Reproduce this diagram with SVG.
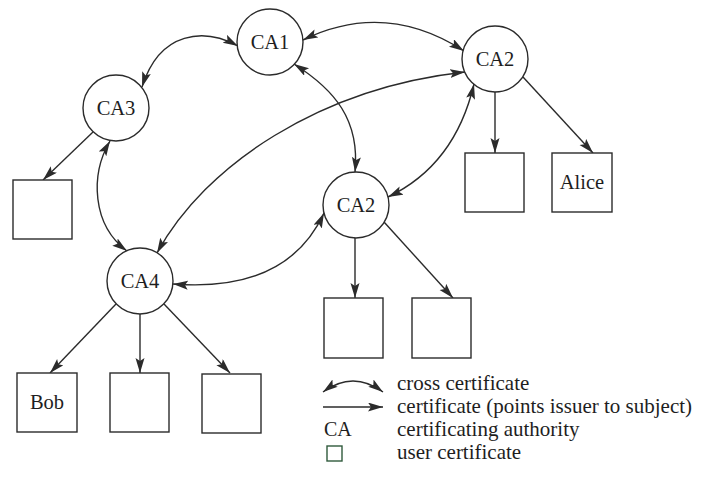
<svg xmlns="http://www.w3.org/2000/svg" width="704" height="478" viewBox="0 0 704 478">
  <style>
    .ca { fill: #fff; stroke: #2b2b2b; stroke-width: 1.4; }
    .user { fill: #fff; stroke: #2b2b2b; stroke-width: 1.4; }
    .lbl { font-family: "Liberation Serif", "Times New Roman", serif; font-size: 20.5px; fill: #1e1e1e; text-anchor: middle; }
    .leg { font-family: "Liberation Serif", "Times New Roman", serif; font-size: 21px; fill: #1e1e1e; }
    .cert { fill: none; stroke: #2b2b2b; stroke-width: 1.4; marker-end: url(#head); }
    .cross { fill: none; stroke: #2b2b2b; stroke-width: 1.4; marker-start: url(#head); marker-end: url(#head); }
  </style>
  <defs>
    <marker id="head" markerUnits="userSpaceOnUse" markerWidth="18" markerHeight="12" refX="15" refY="4.5" orient="auto-start-reverse">
      <path d="M0,0 L15,4.5 L0,9 L3,4.5 z" fill="#2b2b2b"/>
    </marker>
  </defs>
  <rect width="704" height="478" fill="#fff"/>

  <!-- connectors -->
  <g id="connectors">
    <!-- cross certificates -->
    <path class="cross" d="M238 46 C205 28, 160 30, 142 87"/>
    <path class="cross" d="M303 40 Q385 0, 464 51"/>
    <path class="cross" d="M294 64 C335 90, 360 120, 355 172"/>
    <path class="cross" d="M474 84 Q455 165, 388 197"/>
    <path class="cross" d="M465 72 C320 88, 205 165, 157 253"/>
    <path class="cross" d="M110 141 C90 175, 92 225, 127 251"/>
    <path class="cross" d="M173 284 C250 290, 300 265, 324 213"/>
    <!-- certificates issued to subjects -->
    <path class="cert" d="M93 132 L43 180"/>
    <path class="cert" d="M495 92 L495 153"/>
    <path class="cert" d="M523 77 L593 153"/>
    <path class="cert" d="M355 238 L355 298"/>
    <path class="cert" d="M384 222 L453 298"/>
    <path class="cert" d="M116 304 L50 373"/>
    <path class="cert" d="M140 314 L140 373"/>
    <path class="cert" d="M164 304 L230 373"/>
  </g>

  <!-- certificating authorities -->
  <g id="ca1"><circle class="ca" cx="270" cy="42" r="33"/><text class="lbl" x="270" y="48.5">CA1</text></g>
  <g id="ca3"><circle class="ca" cx="116" cy="108" r="33"/><text class="lbl" x="116" y="114.5">CA3</text></g>
  <g id="ca2-top"><circle class="ca" cx="495" cy="59" r="33"/><text class="lbl" x="495" y="65.5">CA2</text></g>
  <g id="ca2-mid"><circle class="ca" cx="356" cy="205" r="33"/><text class="lbl" x="356" y="211.5">CA2</text></g>
  <g id="ca4"><circle class="ca" cx="140" cy="281" r="33"/><text class="lbl" x="140" y="287.5">CA4</text></g>

  <!-- user certificates -->
  <g id="user-ca3"><rect class="user" x="13" y="180" width="59" height="59"/></g>
  <g id="user-ca2-top-1"><rect class="user" x="465" y="153" width="59" height="59"/></g>
  <g id="user-alice"><rect class="user" x="552" y="153" width="60" height="59"/><text class="lbl" x="582" y="189">Alice</text></g>
  <g id="user-ca2-mid-1"><rect class="user" x="324" y="298" width="59" height="60"/></g>
  <g id="user-ca2-mid-2"><rect class="user" x="412" y="298" width="59" height="60"/></g>
  <g id="user-bob"><rect class="user" x="17" y="373" width="60" height="59"/><text class="lbl" x="47" y="409">Bob</text></g>
  <g id="user-ca4-2"><rect class="user" x="110" y="373" width="59" height="59"/></g>
  <g id="user-ca4-3"><rect class="user" x="202" y="374" width="59" height="59"/></g>

  <!-- legend -->
  <g id="legend">
    <path class="cross" d="M323 392 Q353 370, 383 392"/>
    <path class="cert" d="M323 407 L383 407"/>
    <text class="leg" x="324" y="436" style="font-size:20px">CA</text>
    <rect x="327" y="446" width="15" height="15" fill="#fff" stroke="#2f5a3c" stroke-width="1.4"/>
    <text class="leg" x="397" y="390">cross certificate</text>
    <text class="leg" x="397" y="413">certificate (points issuer to subject)</text>
    <text class="leg" x="397" y="436">certificating authority</text>
    <text class="leg" x="397" y="459">user certificate</text>
  </g>
</svg>
